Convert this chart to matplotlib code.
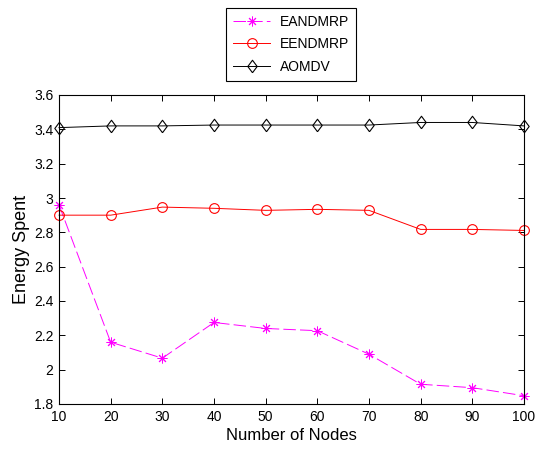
import matplotlib
matplotlib.use("Agg")
import matplotlib.pyplot as plt

plt.rcParams['font.family'] = ['Liberation Sans', 'DejaVu Sans']
plt.rcParams['lines.scale_dashes'] = False

nodes = [10, 20, 30, 40, 50, 60, 70, 80, 90, 100]
eandmrp = [2.96, 2.16, 2.067, 2.275, 2.24, 2.227, 2.09, 1.915, 1.895, 1.848]
eendmrp = [2.90, 2.90, 2.947, 2.94, 2.928, 2.934, 2.928, 2.817, 2.817, 2.811]
aomdv = [3.41, 3.42, 3.42, 3.425, 3.425, 3.425, 3.425, 3.44, 3.44, 3.42]

yticks = [1.8, 2.0, 2.2, 2.4, 2.6, 2.8, 3.0, 3.2, 3.4, 3.6]
ytick_labels = ['1.8', '2', '2.2', '2.4', '2.6', '2.8', '3', '3.2', '3.4', '3.6']

fig = plt.figure(figsize=(5.35, 4.5), dpi=100)
ax = fig.add_axes([59/535, 1-404/450, (524-59)/535, (404-95)/450])

diamond = [(0, -1), (0.75, 0), (0, 1), (-0.75, 0), (0, -1)]

ax.plot(nodes, eandmrp, color='#FF00FF', lw=0.7, dashes=(9, 3),
        marker=(8, 2, 0), markersize=7, markeredgewidth=0.7, label='EANDMRP', clip_on=False)
ax.plot(nodes, eendmrp, color='#FF0000', lw=0.7,
        marker='o', markersize=7, markerfacecolor='none', markeredgewidth=0.8, label='EENDMRP', clip_on=False)
ax.plot(nodes, aomdv, color='black', lw=0.7,
        marker=diamond, markersize=9, markerfacecolor='none', markeredgewidth=0.8, label='AOMDV', clip_on=False)

ax.set_xlim(10, 100)
ax.set_ylim(1.8, 3.6)
ax.set_xticks(nodes)
ax.set_yticks(yticks)
ax.set_yticklabels(ytick_labels)
ax.tick_params(direction='in', length=4, width=0.7, top=True, right=True, labelsize=10, pad=4)
for s in ax.spines.values():
    s.set_linewidth(0.8)

ax.set_xlabel('Number of Nodes', fontsize=12, labelpad=3)
ax.set_ylabel('Energy Spent', fontsize=13, labelpad=3)

leg = fig.legend(loc='upper left', bbox_to_anchor=(226/535, 1-8/450), borderaxespad=0,
                 fontsize=10, fancybox=False, edgecolor='black', framealpha=1,
                 numpoints=1, handlelength=2.7, handletextpad=0.65, labelspacing=0.6,
                 borderpad=0.5)
leg.get_frame().set_linewidth(0.8)

fig.savefig('out.png', dpi=100)
